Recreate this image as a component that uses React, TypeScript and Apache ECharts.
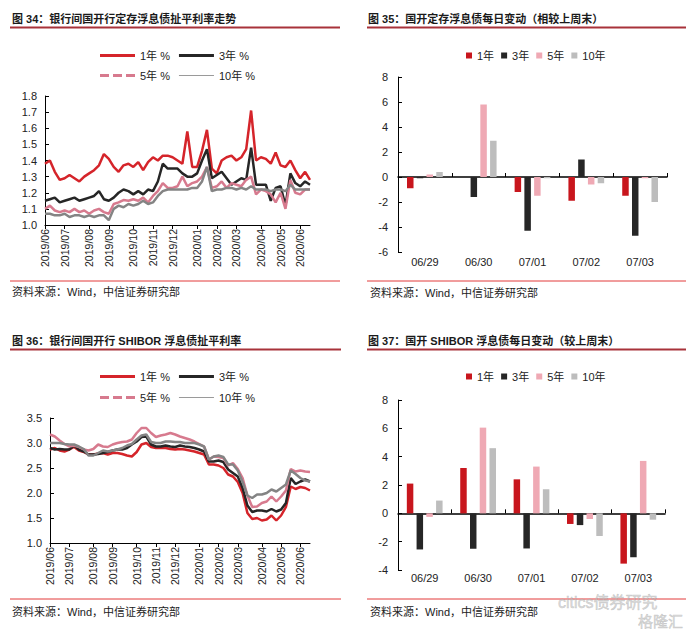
import React, { useEffect, useRef } from "react";
import * as echarts from "echarts";

const FONT = '"Liberation Sans", Arial, "Noto Sans CJK SC", sans-serif';

// ---------- weekly date categories (Jun 2019 – Jun 2020) ----------
const firstWeek = Date.UTC(2019, 5, 3);
const weekCount = 55;
const weekDates: string[] = [];
for (let i = 0; i < weekCount; i++) {
  const d = new Date(firstWeek + i * 7 * 86400000);
  const mm = String(d.getUTCMonth() + 1).padStart(2, "0");
  const dd = String(d.getUTCDate()).padStart(2, "0");
  weekDates.push(`${d.getUTCFullYear()}/${mm}/${dd}`);
}
const isMonthStart = (i: number) =>
  i === 0 || weekDates[i].slice(0, 7) !== weekDates[i - 1].slice(0, 7);

// ---------- 图34 定存浮息债扯平利率 (%) ----------
const fix1y = [1.38,1.40,1.33,1.28,1.29,1.31,1.29,1.27,1.30,1.32,1.34,1.37,1.44,1.41,1.36,1.33,1.37,1.38,1.36,1.39,1.34,1.39,1.42,1.40,1.43,1.43,1.42,
  1.40,1.38,1.58,1.36,1.36,1.46,1.59,1.35,1.32,1.40,1.42,1.43,1.40,1.42,1.47,1.71,1.40,1.42,1.41,1.38,1.45,1.37,1.36,1.40,1.34,1.29,1.33,1.28];
const fix3y = [1.15,1.16,1.17,1.14,1.15,1.16,1.17,1.15,1.16,1.17,1.18,1.21,1.16,1.15,1.17,1.20,1.22,1.21,1.19,1.21,1.19,1.22,1.21,1.27,1.38,1.35,1.35,
  1.35,1.32,1.30,1.30,1.32,1.40,1.47,1.29,1.31,1.33,1.29,1.25,1.27,1.29,1.28,1.48,1.25,1.25,1.25,1.15,1.23,1.24,1.12,1.32,1.26,1.24,1.27,1.25];
const fix5y = [1.10,1.12,1.09,1.08,1.09,1.08,1.10,1.08,1.09,1.07,1.09,1.10,1.08,1.07,1.13,1.14,1.155,1.15,1.16,1.15,1.17,1.14,1.18,1.21,1.26,1.23,1.23,
  1.24,1.30,1.24,1.26,1.27,1.30,1.36,1.23,1.24,1.27,1.23,1.26,1.25,1.24,1.28,1.30,1.19,1.22,1.21,1.19,1.14,1.20,1.10,1.28,1.20,1.19,1.22,1.22];
const fix10y = [1.07,1.07,1.06,1.06,1.07,1.05,1.06,1.06,1.05,1.06,1.05,1.06,1.06,1.03,1.10,1.12,1.11,1.13,1.12,1.13,1.15,1.13,1.14,1.18,1.21,1.22,1.22,
  1.22,1.22,1.22,1.23,1.23,1.27,1.36,1.21,1.22,1.22,1.23,1.23,1.22,1.23,1.22,1.24,1.22,1.22,1.22,1.21,1.22,1.22,1.21,1.25,1.22,1.22,1.22,1.22];

// ---------- 图36 SHIBOR 浮息债扯平利率 (%) ----------
const shi1y = [2.87,2.90,2.85,2.83,2.87,2.92,2.85,2.82,2.77,2.77,2.79,2.80,2.77,2.80,2.80,2.78,2.75,2.73,2.82,2.97,3.00,2.92,2.90,2.90,2.90,2.88,2.87,
  2.88,2.87,2.85,2.83,2.80,2.77,2.57,2.57,2.55,2.50,2.37,2.33,2.22,2.00,1.60,1.48,1.50,1.45,1.47,1.55,1.45,1.55,1.72,2.13,2.08,2.12,2.10,2.05];
const shi3y = [2.90,2.87,2.88,2.87,2.87,2.95,2.87,2.83,2.77,2.77,2.78,2.80,2.82,2.85,2.87,2.87,2.90,2.97,3.03,3.12,3.13,2.97,2.93,2.93,2.95,2.93,2.92,
  2.95,2.93,2.92,2.90,2.87,2.83,2.63,2.63,2.65,2.62,2.47,2.40,2.33,2.10,1.75,1.62,1.65,1.65,1.63,1.68,1.63,1.67,1.80,2.30,2.18,2.23,2.27,2.23];
const shi5y = [3.17,3.13,3.05,2.98,2.93,2.95,2.92,2.87,2.85,2.88,2.97,2.93,2.92,2.97,3.00,3.02,3.03,3.07,3.20,3.30,3.30,3.20,3.12,3.15,3.17,3.20,3.17,
  3.13,3.10,3.07,3.03,2.98,2.93,2.67,2.73,2.72,2.70,2.55,2.60,2.48,2.30,1.95,1.72,1.73,1.80,1.83,1.93,1.83,1.93,2.05,2.48,2.43,2.45,2.43,2.42];
const shi10y = [3.00,3.00,3.00,2.98,2.97,2.97,2.93,2.88,2.75,2.75,2.80,2.85,2.83,2.85,2.87,2.90,2.95,2.98,3.07,3.15,3.17,3.02,3.00,3.00,3.03,3.03,3.02,
  3.02,3.00,3.00,3.00,2.97,2.93,2.67,2.73,2.75,2.72,2.57,2.57,2.45,2.22,1.95,1.90,1.97,1.97,2.00,2.07,2.03,2.10,2.17,2.45,2.38,2.30,2.25,2.23];

// ---------- 图35 / 图37 每日变动 (BP) ----------
const days = ["06/29", "06/30", "07/01", "07/02", "07/03"];
const chg35_1y = [-0.9, 0, -1.2, -1.9, -1.5];
const chg35_3y = [-0.1, -1.6, -4.3, 1.4, -4.7];
const chg35_5y = [0.2, 5.8, -1.5, -0.6, -0.1];
const chg35_10y = [0.4, 2.9, -0.1, -0.5, -2.0];
const chg37_1y = [2.1, 3.2, 2.4, -0.75, -3.55];
const chg37_3y = [-2.55, -2.5, -2.48, -0.83, -3.1];
const chg37_5y = [-0.25, 6.05, 3.3, -0.4, 3.7];
const chg37_10y = [0.9, 4.6, 1.7, -1.6, -0.45];

const RED = "#D5242A";
const BLACK = "#262626";
const PINK = "#D77A8E";
const GRAY = "#848484";
const BAR_RED = "#C8161D";
const BAR_BLACK = "#262626";
const BAR_PINK = "#EFA9B4";
const BAR_GRAY = "#BDBDBD";

const ICON_SOLID = "path://M0,0h35v3h-35z";
const ICON_DASH = "path://M0,0h9v3h-9z M13,0h9v3h-9z M26,0h9v3h-9z";
const ICON_THIN = "path://M0,0h35v1h-35z";

const txt = { fontFamily: FONT, fontSize: 11, color: "#222" };

function lineXAxis(gridIndex: number) {
  return {
    type: "category", gridIndex, data: weekDates, boundaryGap: false,
    axisLine: { lineStyle: { color: "#000", width: 1 } },
    axisTick: { interval: (i: number) => isMonthStart(i), length: 4, lineStyle: { color: "#000" } },
    axisLabel: {
      interval: (i: number) => isMonthStart(i), rotate: 90, margin: 4,
      formatter: (v: string) => v.slice(0, 7), fontFamily: FONT, fontSize: 10.5, color: "#222",
    },
    splitLine: { show: false },
  };
}

function valueYAxis(gridIndex: number, min: number, max: number, interval: number, decimals: number, margin: number) {
  return {
    type: "value", gridIndex, min, max, interval,
    axisLine: { show: true, lineStyle: { color: "#000", width: 1 } },
    axisTick: { show: true, inside: true, length: 4, lineStyle: { color: "#000" } },
    axisLabel: { ...txt, margin, formatter: (v: number) => v.toFixed(decimals) },
    splitLine: { show: false },
  };
}

function lineSeries(name: string, data: number[], color: string, axis: number) {
  return {
    type: "line", name, data, xAxisIndex: axis, yAxisIndex: axis === 0 ? 0 : 2,
    symbol: "none", lineStyle: { color, width: 2.5 }, itemStyle: { color },
  };
}

function barSeries(name: string, data: number[], color: string, xIdx: number, yIdx: number) {
  return {
    type: "bar", name, data, xAxisIndex: xIdx, yAxisIndex: yIdx,
    barWidth: 6.5, barGap: "50%", itemStyle: { color },
  };
}

function title(text: string, x: number, y: number) {
  return { type: "text", x, y, style: { text, fill: "#1a1a1a", fontFamily: FONT, fontSize: 11, fontWeight: "bold", verticalAlign: "middle", align: "left" } };
}
function hline(x1: number, x2: number, y: number, stroke: string, w: number) {
  return { type: "line", shape: { x1, y1: y, x2, y2: y }, style: { stroke, lineWidth: w } };
}
function source(x: number, y: number) {
  return { type: "text", x, y, style: { text: "资料来源：Wind，中信证券研究部", fill: "#222", fontFamily: FONT, fontSize: 11, verticalAlign: "middle", align: "left" } };
}

export default function App() {
  const ref = useRef<HTMLDivElement>(null);
  useEffect(() => {
    if (!ref.current) return;
    const chart = echarts.init(ref.current, undefined, { renderer: "svg" });
    const legendBase = {
      left: 95, itemWidth: 35, itemHeight: 3, itemGap: 9, textStyle: txt,
      symbolKeepAspect: true, itemStyle: { borderWidth: 0 },
    };
    const lineLegendA = (top: number) => ({
      ...legendBase, top,
      data: [
        { name: "1年 %", icon: ICON_SOLID },
        { name: "3年 %", icon: ICON_SOLID },
      ],
    });
    const lineLegendB = (top: number) => ({
      ...legendBase, top,
      data: [
        { name: "5年 %", icon: ICON_DASH },
        { name: "10年 %", icon: ICON_THIN, itemStyle: { color: "#9a9a9a", borderWidth: 0 } },
      ],
    });
    const barLegend = (top: number) => ({
      left: 461, top, icon: "rect", itemWidth: 6, itemHeight: 6, itemGap: 7, textStyle: txt,
      data: ["1年", "3年", "5年", "10年"],
    });
    const barLabelAxis = (gridIndex: number, margin: number) => ({
      type: "category", gridIndex, data: days,
      axisLine: { show: false, onZero: false }, axisTick: { show: false },
      axisLabel: { ...txt, margin }, splitLine: { show: false },
    });
    const barZeroAxis = (gridIndex: number) => ({
      type: "category", gridIndex, data: days,
      axisLine: { show: true, onZero: true, lineStyle: { color: "#000", width: 1.5 } },
      axisTick: { show: true, length: 4, lineStyle: { color: "#000" } },
      axisLabel: { show: false }, splitLine: { show: false },
    });

    chart.setOption({
      animation: false,
      backgroundColor: "#fff",
      textStyle: { fontFamily: FONT },
      grid: [
        { left: 45, top: 96, width: 265, height: 129 },
        { left: 398, top: 77, width: 269, height: 175 },
        { left: 50, top: 418, width: 260, height: 125 },
        { left: 398, top: 400, width: 267, height: 170 },
      ],
      legend: [lineLegendA(45), lineLegendB(65), barLegend(45), lineLegendA(366), lineLegendB(387), barLegend(366)],
      xAxis: [
        lineXAxis(0),
        barLabelAxis(1, 4),
        barZeroAxis(1),
        lineXAxis(2),
        barLabelAxis(3, 2),
        barZeroAxis(3),
      ],
      yAxis: [
        valueYAxis(0, 1.0, 1.8, 0.1, 1, 8),
        valueYAxis(1, -6, 8, 2, 0, 10),
        valueYAxis(2, 1.0, 3.5, 0.5, 1, 8),
        valueYAxis(3, -4, 8, 2, 0, 10),
      ],
      series: [
        lineSeries("1年 %", fix1y, RED, 0),
        lineSeries("3年 %", fix3y, BLACK, 0),
        lineSeries("5年 %", fix5y, PINK, 0),
        lineSeries("10年 %", fix10y, GRAY, 0),
        lineSeries("1年 %", shi1y, RED, 3),
        lineSeries("3年 %", shi3y, BLACK, 3),
        lineSeries("5年 %", shi5y, PINK, 3),
        lineSeries("10年 %", shi10y, GRAY, 3),
        barSeries("1年", chg35_1y, BAR_RED, 1, 1),
        barSeries("3年", chg35_3y, BAR_BLACK, 1, 1),
        barSeries("5年", chg35_5y, BAR_PINK, 1, 1),
        barSeries("10年", chg35_10y, BAR_GRAY, 1, 1),
        barSeries("1年", chg37_1y, BAR_RED, 4, 3),
        barSeries("3年", chg37_3y, BAR_BLACK, 4, 3),
        barSeries("5年", chg37_5y, BAR_PINK, 4, 3),
        barSeries("10年", chg37_10y, BAR_GRAY, 4, 3),
      ],
      graphic: [
        title("图 34：银行间国开行定存浮息债扯平利率走势", 12, 19),
        hline(10, 340, 27.5, "#A8323A", 2),
        hline(10, 340, 281, "#E23A3A", 1),
        source(12, 292),
        title("图 35：国开定存浮息债每日变动（相较上周末）", 368, 19),
        hline(367, 686, 27.5, "#A8323A", 2),
        hline(367, 686, 281, "#E23A3A", 1),
        source(370, 293),
        title("图 36：银行间国开行 SHIBOR 浮息债扯平利率", 12, 341),
        hline(10, 341, 349.5, "#A8323A", 2),
        hline(10, 341, 599, "#E23A3A", 1),
        source(12, 612),
        title("图 37：国开 SHIBOR 浮息债每日变动（较上周末）", 368, 341),
        hline(367, 686, 349.5, "#A8323A", 2),
        hline(367, 686, 599, "#E23A3A", 1),
        source(370, 612),
        { type: "text", x: 558, y: 602, style: { text: "citics债券研究", fill: "rgba(190,190,190,0.55)", stroke: "rgba(150,150,150,0.5)", lineWidth: 0.5, fontFamily: FONT, fontSize: 16, verticalAlign: "middle", align: "left" } },
        { type: "text", x: 638, y: 621, style: { text: "格隆汇", fill: "rgba(190,190,190,0.55)", stroke: "rgba(150,150,150,0.5)", lineWidth: 0.5, fontFamily: FONT, fontSize: 15, verticalAlign: "middle", align: "left" } },
      ],
    });
    return () => chart.dispose();
  }, []);
  return <div ref={ref} style={{ position: "fixed", left: 0, top: 0, width: 700, height: 632 }} />;
}
